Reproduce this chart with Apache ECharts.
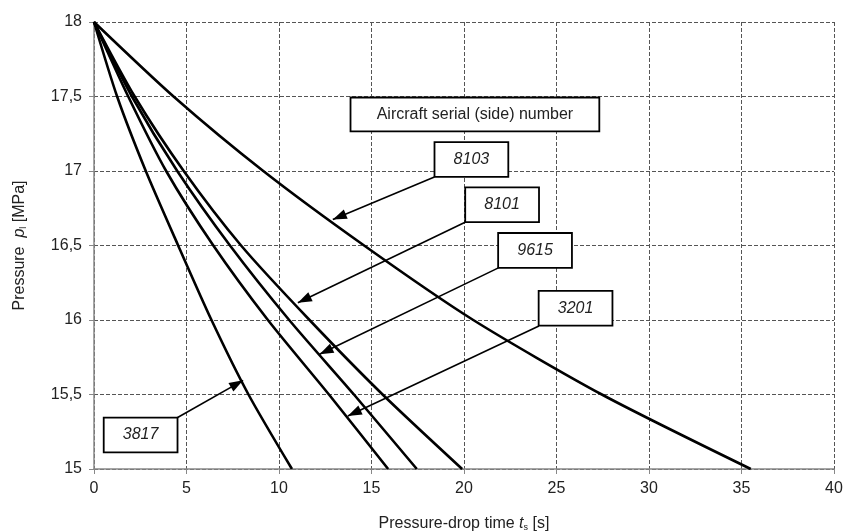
<!DOCTYPE html>
<html>
<head>
<meta charset="utf-8">
<script src="https://cdn.jsdelivr.net/npm/echarts@6/dist/echarts.min.js"></script>
<style>
html,body{margin:0;padding:0;background:#fff;}
#chart{width:845px;height:531px;}
</style>
</head>
<body>
<div id="chart"></div>
<script>
// pressure levels (MPa) and time (s) read at each level
var pressure = [18, 17.5, 17, 16.5, 16, 15.5, 15];
var t3817 = [0, 1.25, 2.8, 4.55, 6.35, 8.35, 10.7];
var t3201 = [0, 1.85, 3.9, 6.45, 9.4, 12.7, 15.9];
var t9615 = [0, 2.05, 4.5, 7.35, 10.55, 14.05, 17.45];
var t8101 = [0, 2.2, 4.85, 7.95, 11.65, 15.6, 19.9];
var t8103 = [0, 4.3, 9.15, 14.6, 20.5, 27.45, 35.5];

var names = ['3817', '3201', '9615', '8101', '8103'];
var times = [t3817, t3201, t9615, t8101, t8103];

// annotation boxes (centre, data coords) and arrows [tail, head]
var boxPos = [[2.52, 15.228], [26.03, 16.079], [23.84, 16.467], [22.06, 16.773], [20.40, 17.077]];
var arrows = [
	[[4.52, 15.346], [8.06, 15.595]],
	[[24.05, 15.96], [13.72, 15.356]],
	[[21.86, 16.35], [12.19, 15.77]],
	[[20.06, 16.656], [11.02, 16.116]],
	[[18.40, 16.96], [12.91, 16.674]]
];
var titlePos = [20.59, 17.38];

var xTicks = [0, 5, 10, 15, 20, 25, 30, 35, 40];
var yTicks = [15, 15.5, 16, 16.5, 17, 17.5, 18];

var series = [];
for (var i = 0; i < names.length; i++) {
	var d = [];
	for (var j = 0; j < pressure.length; j++) {
		d.push([times[i][j], pressure[j]]);
	}
	series.push({
		name: names[i],
		type: 'line',
		data: d,
		smooth: 0.25,
		symbol: 'none',
		lineStyle: {color: '#000', width: 2.6},
		z: 3
	});
}

// arrows + boxes on a helper series
var boxLabel = {
	show: true,
	position: 'inside',
	formatter: '{b}',
	color: '#222',
	fontSize: 16,
	fontStyle: 'italic',
	fontFamily: 'Liberation Sans',
	backgroundColor: '#fff',
	borderColor: '#000',
	borderWidth: 1.8,
	width: 72,
	height: 33,
	lineHeight: 33,
	align: 'center',
	verticalAlign: 'middle',
	padding: 0
};
var mlData = [];
var mpData = [];
for (var k = 0; k < names.length; k++) {
	mlData.push([{coord: arrows[k][0]}, {coord: arrows[k][1]}]);
	mpData.push({name: names[k], coord: boxPos[k]});
}
mpData.push({
	name: 'Aircraft serial (side) number',
	coord: titlePos,
	label: {fontStyle: 'normal', width: 247, height: 32, lineHeight: 32}
});

series.push({
	type: 'line',
	data: [],
	markLine: {
		silent: true,
		symbol: ['none', 'triangle'],
		symbolSize: [10, 14],
		symbolOffset: [[0, 0], [0, 7]],
		lineStyle: {color: '#000', width: 1.6, type: 'solid'},
		label: {show: false},
		data: mlData,
		z: 5
	},
	markPoint: {
		silent: true,
		symbol: 'circle',
		symbolSize: 1,
		itemStyle: {color: 'transparent'},
		label: boxLabel,
		data: mpData,
		z: 6
	}
});

var myChart = echarts.init(document.getElementById('chart'));
var option = {
	animation: false,
	backgroundColor: '#fff',
	textStyle: {fontFamily: 'Liberation Sans'},
	grid: {left: 94, right: 11, top: 22, bottom: 62, outerBoundsMode: 'none'},
	xAxis: {
		type: 'value',
		min: xTicks[0],
		max: xTicks[xTicks.length - 1],
		interval: 5,
		name: '{n|Pressure-drop time }{i|t}{s|s}{n| [s]}',
		nameLocation: 'middle',
		nameGap: 46,
		nameTextStyle: {
			rich: {
				n: {fontSize: 16, color: '#222'},
				i: {fontSize: 16, color: '#222', fontStyle: 'italic'},
				s: {fontSize: 9, color: '#222', verticalAlign: 'bottom', padding: [8, 0, 0, 0]}
			}
		},
		axisLine: {lineStyle: {color: '#888', width: 1.5}},
		axisTick: {show: true, length: 5, lineStyle: {color: '#888'}},
		axisLabel: {fontSize: 16, color: '#222', margin: 12},
		splitLine: {show: true, lineStyle: {color: '#555', type: [4, 2], width: 1}}
	},
	yAxis: {
		type: 'value',
		min: yTicks[0],
		max: yTicks[yTicks.length - 1],
		interval: 0.5,
		name: '{n|Pressure  }{i|p}{s|l}{n| [MPa]}',
		nameLocation: 'middle',
		nameGap: 66,
		nameTextStyle: {
			rich: {
				n: {fontSize: 16, color: '#222'},
				i: {fontSize: 16, color: '#222', fontStyle: 'italic'},
				s: {fontSize: 9, color: '#222', verticalAlign: 'bottom', padding: [8, 0, 0, 0]}
			}
		},
		axisLine: {show: true, lineStyle: {color: '#888', width: 1.5}},
		axisTick: {show: true, length: 5, lineStyle: {color: '#888'}},
		axisLabel: {
			fontSize: 16,
			color: '#222',
			margin: 12,
			formatter: function (v) { return String(v).replace('.', ','); }
		},
		splitLine: {show: true, lineStyle: {color: '#555', type: [4, 2], width: 1}}
	},
	series: series
};
myChart.setOption(option);
</script>
</body>
</html>
